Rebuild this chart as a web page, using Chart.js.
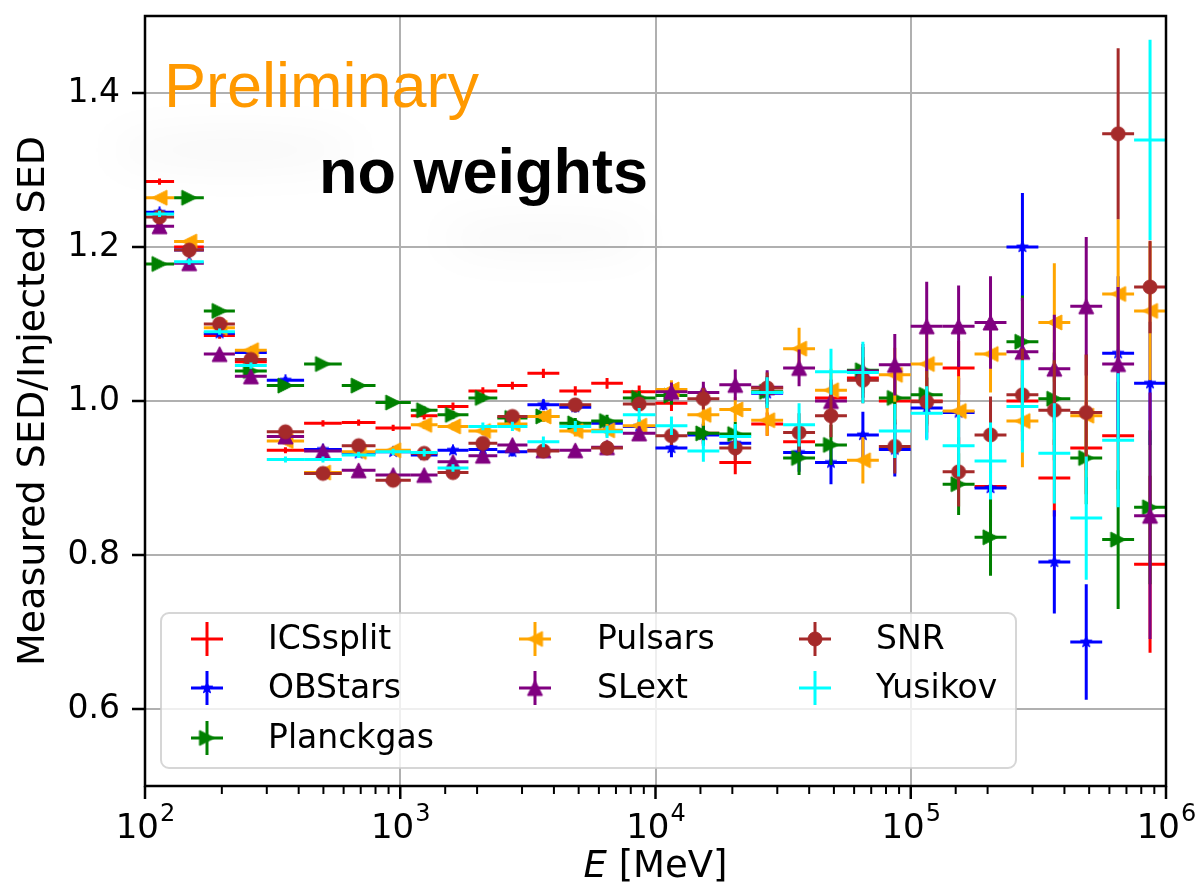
<!DOCTYPE html>
<html>
<head>
<meta charset="utf-8">
<script src="https://cdn.jsdelivr.net/npm/chart.js@4.4.0/dist/chart.umd.min.js"></script>
<style>
  html, body { margin: 0; padding: 0; background: #fff; }
  #wrap { width: 1201px; height: 886px; }
</style>
</head>
<body>
<div id="wrap"><canvas id="chart" width="1201" height="886"></canvas></div>
<script>
// energy bins [MeV]
const eLow = [100, 130, 170, 225, 300, 420, 590, 800, 1100, 1400, 1850, 2400, 3150, 4200, 5600, 7450,
  10000, 13335, 17783, 23714, 31623, 42170, 56234, 74989, 100000, 133352, 177828, 237137, 316228, 421697, 562341, 749894];
const eHigh = [130, 170, 225, 300, 420, 590, 800, 1100, 1400, 1850, 2400, 3150, 4200, 5600, 7450, 10000,
  13335, 17783, 23714, 31623, 42170, 56234, 74989, 100000, 133352, 177828, 237137, 316228, 421697, 562341, 749894, 1000000];
const eCenter = [114, 149, 196, 260, 355, 498, 687, 938, 1241, 1609, 2107, 2750, 3637, 4850, 6459, 8631,
  11548, 15399, 20535, 27384, 36517, 48697, 64938, 86596, 115478, 153993, 205353, 273842, 365174, 486968, 649382, 865964];

// measured / injected SED per model
const icsSplit = [1.285, 1.200, 1.085, 1.051, 0.936, 0.971, 0.972, 0.965, 0.981, 0.993, 1.013, 1.020, 1.036, 1.013, 1.023, 1.012,
  0.997, 0.958, 0.920, 0.970, 0.947, 1.004, 1.030, 1.000, 1.000, 1.043, 0.889, 1.000, 0.900, 0.939, 0.955, 0.788];
const icsErr = [0.004, 0.004, 0.004, 0.004, 0.004, 0.004, 0.004, 0.004, 0.005, 0.005, 0.005, 0.005, 0.006, 0.006, 0.007, 0.008,
  0.010, 0.012, 0.015, 0.015, 0.020, 0.020, 0.025, 0.030, 0.030, 0.035, 0.040, 0.040, 0.050, 0.060, 0.070, 0.115];

const obStars = [1.245, 1.196, 1.088, 1.063, 1.027, 0.937, 0.932, 0.934, 0.930, 0.936, 0.937, 0.934, 0.995, 0.992, 0.971, 0.967,
  0.939, 0.956, 0.945, 1.010, 0.933, 0.920, 0.956, 0.937, 0.991, 0.985, 0.887, 1.200, 0.791, 0.687, 1.062, 1.023];
const obsErr = [0.004, 0.004, 0.004, 0.004, 0.004, 0.004, 0.004, 0.004, 0.005, 0.005, 0.005, 0.006, 0.007, 0.007, 0.008, 0.009,
  0.012, 0.014, 0.016, 0.020, 0.025, 0.028, 0.030, 0.035, 0.040, 0.045, 0.050, 0.070, 0.067, 0.075, 0.100, 0.080];

const planckGas = [1.178, 1.264, 1.117, 1.039, 1.020, 1.048, 1.020, 0.998, 0.988, 0.982, 1.004, 0.978, 0.980, 0.971, 0.974, 1.004,
  1.007, 0.958, 0.957, 1.012, 0.926, 0.943, 1.040, 1.004, 1.008, 0.892, 0.823, 1.077, 1.003, 0.926, 0.820, 0.862];
const plnErr = [0.004, 0.004, 0.004, 0.004, 0.004, 0.004, 0.004, 0.004, 0.005, 0.005, 0.005, 0.006, 0.007, 0.007, 0.008, 0.009,
  0.012, 0.014, 0.016, 0.020, 0.022, 0.026, 0.030, 0.035, 0.040, 0.040, 0.050, 0.060, 0.060, 0.060, 0.090, 0.100];

const pulsars = [1.264, 1.207, 1.095, 1.066, 0.948, 0.907, 0.934, 0.936, 0.969, 0.967, 0.961, 0.970, 0.980, 0.961, 0.962, 0.968,
  1.015, 0.982, 0.989, 0.975, 1.068, 1.014, 0.923, 1.034, 1.048, 0.987, 1.061, 0.974, 1.102, 0.981, 1.139, 1.117];
const pulErr = [0.004, 0.004, 0.004, 0.004, 0.004, 0.004, 0.004, 0.004, 0.005, 0.005, 0.005, 0.006, 0.007, 0.007, 0.008, 0.009,
  0.012, 0.014, 0.016, 0.020, 0.027, 0.028, 0.030, 0.035, 0.040, 0.045, 0.050, 0.060, 0.077, 0.080, 0.097, 0.090];

const slExt = [1.227, 1.179, 1.061, 1.032, 0.954, 0.935, 0.910, 0.904, 0.904, 0.921, 0.929, 0.943, 0.936, 0.936, 0.940, 0.958,
  1.012, 1.011, 1.021, 1.018, 1.043, 1.000, 1.039, 1.047, 1.097, 1.097, 1.102, 1.064, 1.042, 1.123, 1.048, 0.851];
const sleErr = [0.004, 0.004, 0.004, 0.004, 0.004, 0.004, 0.004, 0.004, 0.005, 0.005, 0.005, 0.006, 0.007, 0.007, 0.008, 0.009,
  0.012, 0.014, 0.020, 0.022, 0.024, 0.028, 0.035, 0.040, 0.058, 0.053, 0.060, 0.070, 0.070, 0.090, 0.100, 0.160];

const snr = [1.239, 1.196, 1.100, 1.054, 0.960, 0.906, 0.942, 0.897, 0.932, 0.907, 0.945, 0.980, 0.935, 0.995, 0.939, 0.996,
  0.955, 1.003, 0.939, 1.017, 0.959, 0.981, 1.027, 0.941, 0.999, 0.908, 0.956, 1.008, 0.988, 0.985, 1.347, 1.148];
const snrErr = [0.004, 0.004, 0.004, 0.004, 0.004, 0.004, 0.004, 0.004, 0.005, 0.005, 0.005, 0.006, 0.007, 0.007, 0.008, 0.009,
  0.012, 0.014, 0.016, 0.020, 0.025, 0.028, 0.030, 0.035, 0.040, 0.045, 0.050, 0.060, 0.065, 0.075, 0.111, 0.060];

const yusikov = [1.243, 1.181, 1.090, 1.046, 0.924, 0.924, 0.930, 0.934, 0.933, 0.913, 0.967, 0.967, 0.947, 0.967, 0.960, 0.982,
  0.968, 0.935, 0.954, 1.011, 0.969, 1.038, 1.037, 0.961, 0.984, 0.942, 0.922, 0.993, 0.932, 0.848, 0.949, 1.339];
const yusErr = [0.004, 0.004, 0.004, 0.004, 0.004, 0.004, 0.004, 0.004, 0.005, 0.005, 0.005, 0.006, 0.007, 0.007, 0.008, 0.009,
  0.012, 0.014, 0.016, 0.020, 0.028, 0.030, 0.040, 0.035, 0.035, 0.040, 0.050, 0.060, 0.065, 0.080, 0.087, 0.130];

const yTicks = [0.6, 0.8, 1.0, 1.2, 1.4];

const FONT = "'DejaVu Sans', sans-serif";

function makeMarker(kind, color, size) {
  const c = document.createElement("canvas");
  c.width = c.height = size + 4;
  const g = c.getContext("2d");
  const m = c.width / 2, r = size / 2;
  g.fillStyle = color;
  g.strokeStyle = color;
  g.lineWidth = 1;
  g.beginPath();
  if (kind === "circle") {
    g.arc(m, m, r, 0, Math.PI * 2);
  } else if (kind === "right") {
    g.moveTo(m + r, m); g.lineTo(m - r, m - r); g.lineTo(m - r, m + r);
  } else if (kind === "left") {
    g.moveTo(m - r, m); g.lineTo(m + r, m - r); g.lineTo(m + r, m + r);
  } else if (kind === "up") {
    g.moveTo(m, m - r); g.lineTo(m - r, m + r); g.lineTo(m + r, m + r);
  } else if (kind === "star") {
    for (let i = 0; i < 10; i++) {
      const a = -Math.PI / 2 + i * Math.PI / 5;
      const rr = i % 2 === 0 ? r : r * 0.4;
      g.lineTo(m + rr * Math.cos(a), m + rr * Math.sin(a));
    }
  }
  g.closePath();
  g.fill();
  g.stroke();
  return c;
}

const series = [
  { label: "ICSsplit", vals: icsSplit, err: icsErr, color: "#ff0000", marker: null },
  { label: "OBStars", vals: obStars, err: obsErr, color: "#0000ff", marker: "star" },
  { label: "Planckgas", vals: planckGas, err: plnErr, color: "#008000", marker: "right" },
  { label: "Pulsars", vals: pulsars, err: pulErr, color: "#ffa500", marker: "left" },
  { label: "SLext", vals: slExt, err: sleErr, color: "#800080", marker: "up" },
  { label: "SNR", vals: snr, err: snrErr, color: "#a52a2a", marker: "circle" },
  { label: "Yusikov", vals: yusikov, err: yusErr, color: "#00ffff", marker: null },
];

const markerSize = { star: 12, right: 15, left: 15, up: 15, circle: 14 };

const datasets = series.map((s, i) => {
  const img = s.marker ? makeMarker(s.marker, s.color, markerSize[s.marker]) : null;
  s.img = img;
  return {
    label: s.label,
    data: s.vals.map((v, k) => ({ x: eCenter[k], y: v, xMin: eLow[k], xMax: eHigh[k], yErr: s.err[k] })),
    errColor: s.color,
    pointStyle: img || "circle",
    pointRadius: img ? 7 : 0,
    showLine: false,
    order: series.length - i,
  };
});

const isDecade = v => Math.abs(Math.log10(v) - Math.round(Math.log10(v))) < 1e-6;

const errorBars = {
  id: "errorBars",
  beforeDatasetDraw(chart, args) {
    const ds = chart.data.datasets[args.index];
    const { ctx, chartArea } = chart;
    const xs = chart.scales.x, ys = chart.scales.y;
    ctx.save();
    ctx.beginPath();
    ctx.rect(chartArea.left, chartArea.top, chartArea.right - chartArea.left, chartArea.bottom - chartArea.top);
    ctx.clip();
    ctx.strokeStyle = ds.errColor;
    ctx.lineWidth = 3;
    ds.data.forEach(p => {
      const px = xs.getPixelForValue(p.x);
      const py = ys.getPixelForValue(p.y);
      ctx.beginPath();
      ctx.moveTo(xs.getPixelForValue(p.xMin), py);
      ctx.lineTo(xs.getPixelForValue(p.xMax), py);
      ctx.moveTo(px, ys.getPixelForValue(p.y - p.yErr));
      ctx.lineTo(px, ys.getPixelForValue(p.y + p.yErr));
      ctx.stroke();
    });
    ctx.restore();
  },
};

const decor = {
  id: "decor",
  beforeDatasetsDraw(chart) {
    // faint grey smudge behind the "no weights" label
    const ctx = chart.ctx;
    ctx.save();
    ctx.filter = "blur(20px)";
    ctx.fillStyle = "rgba(0,0,0,0.035)";
    ctx.beginPath();
    ctx.ellipse(235, 150, 125, 16, 0, 0, Math.PI * 2);
    ctx.fill();
    ctx.beginPath();
    ctx.ellipse(545, 238, 105, 14, 0, 0, Math.PI * 2);
    ctx.fill();
    ctx.restore();
  },
  afterDraw(chart) {
    const { ctx, chartArea: a } = chart;
    const xs = chart.scales.x, ys = chart.scales.y;
    ctx.save();

    // frame
    ctx.strokeStyle = "#000";
    ctx.lineWidth = 2.5;
    ctx.strokeRect(a.left, a.top, a.right - a.left, a.bottom - a.top);

    // x tick marks and decade labels
    ctx.fillStyle = "#000";
    ctx.textBaseline = "alphabetic";
    xs.ticks.forEach(t => {
      const px = xs.getPixelForValue(t.value);
      const major = isDecade(t.value);
      ctx.lineWidth = major ? 2.5 : 2;
      ctx.beginPath();
      ctx.moveTo(px, a.bottom);
      ctx.lineTo(px, a.bottom + (major ? 13 : 8));
      ctx.stroke();
      if (major) {
        const ex = String(Math.round(Math.log10(t.value)));
        ctx.font = "34px " + FONT;
        const wb = ctx.measureText("10").width;
        ctx.font = "24px " + FONT;
        const we = ctx.measureText(ex).width;
        const x0 = px - (wb + we) / 2;
        ctx.font = "34px " + FONT;
        ctx.textAlign = "left";
        ctx.fillText("10", x0, 838);
        ctx.font = "24px " + FONT;
        ctx.fillText(ex, x0 + wb + 1, 821);
      }
    });
    ctx.lineWidth = 2.5;
    ys.ticks.forEach(t => {
      const py = ys.getPixelForValue(t.value);
      ctx.beginPath();
      ctx.moveTo(a.left - 13, py);
      ctx.lineTo(a.left, py);
      ctx.stroke();
    });

    // axis titles
    ctx.font = "italic 37px " + FONT;
    const wE = ctx.measureText("E").width;
    ctx.font = "37px " + FONT;
    const rest = " [MeV]";
    const wR = ctx.measureText(rest).width;
    const x0 = (a.left + a.right) / 2 - (wE + wR) / 2;
    ctx.textAlign = "left";
    ctx.font = "italic 37px " + FONT;
    ctx.fillText("E", x0, 877);
    ctx.font = "37px " + FONT;
    ctx.fillText(rest, x0 + wE, 877);

    ctx.save();
    ctx.translate(34, (a.top + a.bottom) / 2);
    ctx.rotate(-Math.PI / 2);
    ctx.textAlign = "center";
    ctx.textBaseline = "middle";
    ctx.font = "38px " + FONT;
    ctx.fillText("Measured SED/Injected SED", 0, 0);
    ctx.restore();

    // legend (3 columns, filled column by column)
    const lx = 161, ly = 613, lw = 855, lh = 155;
    ctx.beginPath();
    ctx.roundRect(lx, ly, lw, lh, 8);
    ctx.fillStyle = "rgba(255,255,255,0.8)";
    ctx.fill();
    ctx.strokeStyle = "rgba(204,204,204,0.8)";
    ctx.lineWidth = 2;
    ctx.stroke();
    const cols = [{ m: 207, t: 268 }, { m: 535, t: 597 }, { m: 815, t: 876 }];
    const rows = [639, 688, 738];
    const place = [[0, 0], [0, 1], [0, 2], [1, 0], [1, 1], [2, 0], [2, 1]];
    ctx.font = "33px " + FONT;
    ctx.textAlign = "left";
    ctx.textBaseline = "middle";
    series.forEach((s, i) => {
      const col = cols[place[i][0]], y = rows[place[i][1]];
      ctx.strokeStyle = s.color;
      ctx.lineWidth = 3;
      ctx.beginPath();
      ctx.moveTo(col.m - 16, y); ctx.lineTo(col.m + 16, y);
      ctx.moveTo(col.m, y - 17); ctx.lineTo(col.m, y + 17);
      ctx.stroke();
      if (s.img) ctx.drawImage(s.img, col.m - s.img.width / 2, y - s.img.height / 2);
      ctx.fillStyle = "#000";
      ctx.fillText(s.label, col.t, y + 1);
    });

    // annotations
    ctx.textBaseline = "alphabetic";
    ctx.textAlign = "left";
    ctx.fillStyle = "#ff9900";
    ctx.font = "63px 'Liberation Sans', Arial, sans-serif";
    ctx.fillText("Preliminary", 164, 107);
    ctx.fillStyle = "#000";
    ctx.font = "bold 63px 'Liberation Sans', Arial, sans-serif";
    ctx.fillText("no weights", 319, 193);

    ctx.restore();
  },
};

new Chart(document.getElementById("chart"), {
  type: "scatter",
  data: { datasets },
  options: {
    responsive: false,
    animation: false,
    events: [],
    layout: { padding: { top: 16, right: 35, left: 0, bottom: 0 } },
    plugins: { legend: { display: false }, tooltip: { enabled: false } },
    scales: {
      x: {
        type: "logarithmic",
        min: 100,
        max: 1000000,
        afterFit: s => { s.height = 100; s.paddingLeft = 0; s.paddingRight = 0; },
        border: { display: false },
        grid: {
          color: c => (c.tick && isDecade(c.tick.value) ? "#b0b0b0" : "rgba(0,0,0,0)"),
          lineWidth: 2,
          tickLength: 13,
          tickColor: "rgba(0,0,0,0)",
        },
        ticks: {
          autoSkip: false,
          maxRotation: 0,
          color: "#000",
          font: { family: FONT, size: 33 },
          callback: () => "",
        },
      },
      y: {
        min: 0.5,
        max: 1.5,
        afterBuildTicks: s => { s.ticks = yTicks.map(v => ({ value: v })); },
        afterFit: s => { s.width = 145; s.paddingTop = 0; s.paddingBottom = 0; },
        border: { display: false },
        grid: { color: "#b0b0b0", lineWidth: 2, tickLength: 13, tickColor: "rgba(0,0,0,0)" },
        ticks: {
          padding: 12,
          color: "#000",
          font: { family: FONT, size: 33 },
          callback: v => v.toFixed(1),
        },
      },
    },
  },
  plugins: [errorBars, decor],
});
</script>
</body>
</html>
